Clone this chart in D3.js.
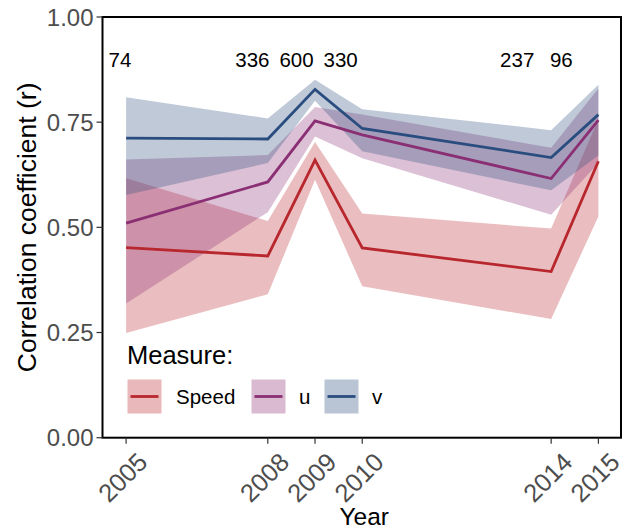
<!DOCTYPE html>
<html>
<head>
<meta charset="utf-8">
<script src="https://cdn.jsdelivr.net/npm/d3@7"></script>
<style>
  body { margin: 0; background: #fff; }
  text { font-family: "Liberation Sans", Arial, sans-serif; }
</style>
</head>
<body>
<div id="chart"></div>
<script>
var w = 625;
var h = 529;

// Years and sample sizes
var years = [2005, 2008, 2009, 2010, 2014, 2015];
var sampleSizes = [74, 336, 600, 330, 237, 96];

// Correlation per measure (line) with lower / upper bounds (ribbon)
var speedR     = [0.452, 0.432, 0.660, 0.451, 0.395, 0.657];
var speedLower = [0.249, 0.341, 0.613, 0.360, 0.282, 0.526];
var speedUpper = [0.617, 0.515, 0.703, 0.533, 0.497, 0.757];

var uR     = [0.510, 0.608, 0.753, 0.720, 0.616, 0.755];
var uLower = [0.319, 0.536, 0.716, 0.664, 0.530, 0.653];
var uUpper = [0.661, 0.672, 0.786, 0.768, 0.689, 0.830];

var vR     = [0.712, 0.710, 0.828, 0.735, 0.666, 0.768];
var vLower = [0.577, 0.653, 0.801, 0.681, 0.588, 0.671];
var vUpper = [0.809, 0.759, 0.851, 0.781, 0.731, 0.839];

var yTicks = [0, 0.25, 0.5, 0.75, 1];
var measures = ["Speed", "u", "v"];

var measureColors = {
  "Speed": "#b8272d",
  "u": "#8b2f74",
  "v": "#2a4d7f"
};

var series = [
  { name: "Speed", r: speedR, lo: speedLower, hi: speedUpper },
  { name: "u", r: uR, lo: uLower, hi: uUpper },
  { name: "v", r: vR, lo: vLower, hi: vUpper }
];

// panel edges (window.top is reserved, so use px* names)
var pxLeft = 102.5, pxRight = 622, pxTop = 17, pxBottom = 437.7;

var x = d3.scaleLinear().domain([2004.5, 2015.5]).range([pxLeft, pxRight]);
var y = d3.scaleLinear().domain([0, 1]).range([pxBottom, pxTop]);

var svg = d3.select("#chart")
  .append("svg")
  .attr("width", w)
  .attr("height", h);

// ribbons first, then lines (like layered geoms)
var area = d3.area()
  .x(function (d) { return x(d.year); })
  .y0(function (d) { return y(d.lo); })
  .y1(function (d) { return y(d.hi); });

var line = d3.line()
  .x(function (d) { return x(d.year); })
  .y(function (d) { return y(d.r); });

function rows(s) {
  return years.map(function (yr, i) {
    return { year: yr, r: s.r[i], lo: s.lo[i], hi: s.hi[i] };
  });
}

svg.selectAll(".ribbon")
  .data(series)
  .enter()
  .append("path")
  .attr("class", "ribbon")
  .attr("d", function (s) { return area(rows(s)); })
  .attr("fill", function (s) { return measureColors[s.name]; })
  .attr("fill-opacity", 0.3);

svg.selectAll(".line")
  .data(series)
  .enter()
  .append("path")
  .attr("class", "line")
  .attr("d", function (s) { return line(rows(s)); })
  .attr("fill", "none")
  .attr("stroke", function (s) { return measureColors[s.name]; })
  .attr("stroke-width", 2.8);

// sample size labels along the top
svg.selectAll(".nlabel")
  .data(years)
  .enter()
  .append("text")
  .attr("class", "nlabel")
  .attr("x", function (d) { return 120 + 0.9345 * (x(d) - x(2005)); })
  .attr("y", 67)
  .attr("text-anchor", "middle")
  .attr("font-size", 20.5)
  .attr("fill", "#000")
  .text(function (d, i) { return sampleSizes[i]; });

// panel border
svg.append("rect")
  .attr("x", pxLeft)
  .attr("y", pxTop)
  .attr("width", pxRight - 1 - pxLeft)
  .attr("height", pxBottom - pxTop)
  .attr("fill", "none")
  .attr("stroke", "#000")
  .attr("stroke-width", 2);

// y axis
var yAxis = svg.append("g");
yAxis.selectAll("line")
  .data(yTicks)
  .enter()
  .append("line")
  .attr("x1", pxLeft - 6)
  .attr("x2", pxLeft)
  .attr("y1", function (d) { return y(d); })
  .attr("y2", function (d) { return y(d); })
  .attr("stroke", "#333")
  .attr("stroke-width", 1.2);
yAxis.selectAll("text")
  .data(yTicks)
  .enter()
  .append("text")
  .attr("x", pxLeft - 9)
  .attr("y", function (d) { return y(d); })
  .attr("dy", "0.36em")
  .attr("text-anchor", "end")
  .attr("font-size", 24)
  .attr("fill", "#4d4d4d")
  .text(d3.format(".2f"));

// x axis
var xAxis = svg.append("g");
xAxis.selectAll("line")
  .data(years)
  .enter()
  .append("line")
  .attr("x1", function (d) { return x(d); })
  .attr("x2", function (d) { return x(d); })
  .attr("y1", pxBottom)
  .attr("y2", pxBottom + 6)
  .attr("stroke", "#333")
  .attr("stroke-width", 1.2);
xAxis.selectAll("text")
  .data(years)
  .enter()
  .append("text")
  .attr("transform", function (d) { return "translate(" + (x(d) + 10) + "," + (pxBottom + 13) + ") rotate(-45)"; })
  .attr("dy", "0.72em")
  .attr("text-anchor", "end")
  .attr("font-size", 25.5)
  .attr("fill", "#4d4d4d")
  .text(function (d) { return d; });

// axis titles
svg.append("text")
  .attr("x", (pxLeft + pxRight) / 2 + 2)
  .attr("y", 525)
  .attr("text-anchor", "middle")
  .attr("font-size", 24.5)
  .attr("fill", "#000")
  .text("Year");

svg.append("text")
  .attr("transform", "translate(36," + ((pxTop + pxBottom) / 2) + ") rotate(-90)")
  .attr("text-anchor", "middle")
  .attr("font-size", 26.5)
  .attr("fill", "#000")
  .text("Correlation coefficient (r)");

// legend
var legend = svg.append("g")
  .attr("transform", "translate(127, 0)");

legend.append("text")
  .attr("x", 0)
  .attr("y", 364)
  .attr("font-size", 25.5)
  .attr("fill", "#000")
  .text("Measure:");

var keyX = { "Speed": 0, "u": 124, "v": 197 };

var legendItems = legend.selectAll(".legend-item")
  .data(measures)
  .enter()
  .append("g")
  .attr("class", "legend-item")
  .attr("transform", function (d) { return "translate(" + keyX[d] + ",379)"; });

legendItems.append("rect")
  .attr("width", 35)
  .attr("height", 35)
  .attr("fill", function (d) { return measureColors[d]; })
  .attr("fill-opacity", 0.33)
  .attr("stroke", "#fff")
  .attr("stroke-width", 1);

legendItems.append("line")
  .attr("x1", 3.5)
  .attr("x2", 31.5)
  .attr("y1", 17.5)
  .attr("y2", 17.5)
  .attr("stroke", function (d) { return measureColors[d]; })
  .attr("stroke-width", 2.8);

legendItems.append("text")
  .attr("x", function (d) { return d === "Speed" ? 49 : 48; })
  .attr("y", 25)
  .attr("font-size", 20.5)
  .attr("fill", "#000")
  .text(function (d) { return d; });
</script>
</body>
</html>
